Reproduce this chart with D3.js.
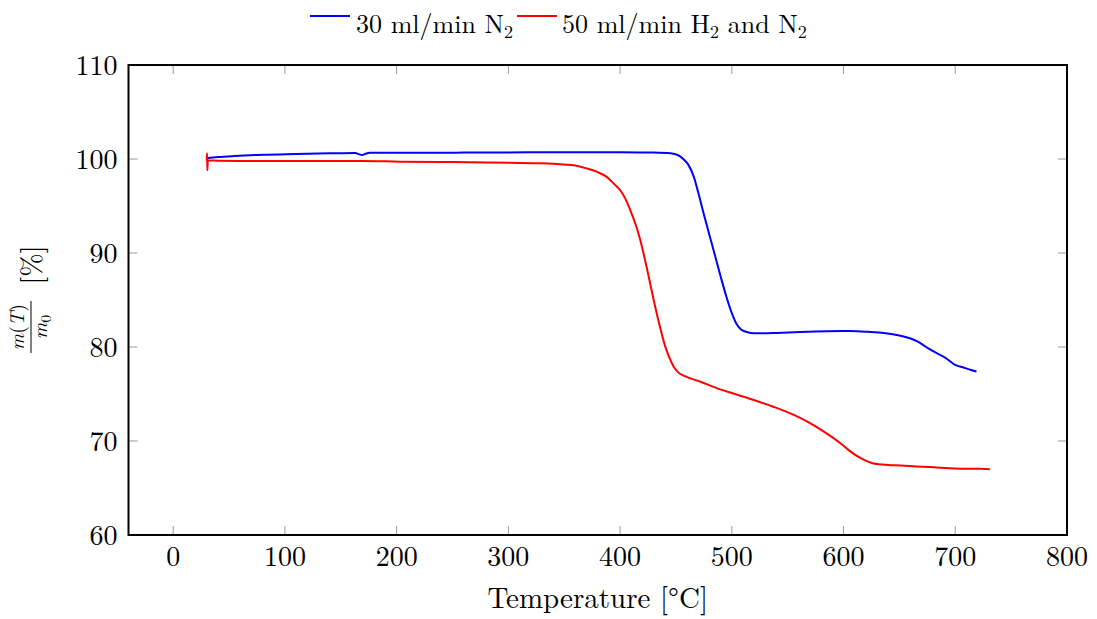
<!DOCTYPE html>
<html>
<head>
<meta charset="utf-8">
<script src="https://cdn.jsdelivr.net/npm/d3@7"></script>
<style>
  body { margin: 0; background: #fff; }
  svg text { font-family: "Latin Modern Roman", "CMU Serif", "Liberation Serif", "DejaVu Serif", serif; fill: #000; }
</style>
</head>
<body>
<svg id="chart"></svg>
<script>
// data: [temperature in °C, m(T)/m0 in %]
const seriesNames = ["30 ml/min N", "50 ml/min H"];
const seriesColors = ["#0000ff", "#ff0000"];

const n2Flow = [
  [30, 100.07], [40, 100.2], [55, 100.32], [80, 100.45], [110, 100.53], [140, 100.6],
  [163, 100.64], [166, 100.52], [169, 100.43], [172, 100.55], [176, 100.66], [200, 100.67],
  [230, 100.66], [260, 100.68], [300, 100.7], [350, 100.73], [400, 100.72], [430, 100.68],
  [445, 100.6], [452, 100.4], [457, 99.95], [461, 99.4], [466, 98.1], [470, 96.4],
  [475, 94.1], [480, 91.9], [485, 89.7], [490, 87.5], [495, 85.4],
  [500, 83.6], [504, 82.5], [508, 81.9], [512, 81.65], [517, 81.5], [522, 81.45],
  [540, 81.5], [561, 81.6], [585, 81.68], [606, 81.7], [622, 81.62], [636, 81.5],
  [651, 81.2], [660, 80.9], [666, 80.6], [674, 80.0], [681, 79.5], [689, 79.0],
  [693, 78.7], [699, 78.15], [708, 77.8], [714, 77.55], [719, 77.4]
];

const h2Flow = [
  [30, 99.8], [30.3, 100.6], [30.6, 98.8], [31, 99.85], [40, 99.82], [60, 99.8],
  [100, 99.8], [140, 99.8], [170, 99.8], [203, 99.72], [240, 99.68], [280, 99.63],
  [322, 99.55], [340, 99.5], [352, 99.4], [362, 99.25], [370, 99.0], [380, 98.6],
  [388, 98.1], [395, 97.3], [400, 96.7], [405, 95.7], [409, 94.6], [414, 93.0],
  [418, 91.4], [423, 88.9], [427, 86.7], [431, 84.5], [436, 82.0], [440, 80.2],
  [444, 78.9], [448, 77.9], [452, 77.3], [458, 76.9], [472, 76.3], [487, 75.6],
  [500, 75.1], [516, 74.5], [537, 73.65], [555, 72.8], [570, 71.9], [581, 71.1],
  [591, 70.3], [600, 69.5], [606, 68.9], [615, 68.2], [627, 67.6], [640, 67.45],
  [651, 67.4], [665, 67.3], [681, 67.2], [695, 67.1], [710, 67.05], [722, 67.05], [731, 67.0]
];

const xTicks = [0, 100, 200, 300, 400, 500, 600, 700, 800];
const yTicks = [60, 70, 80, 90, 100, 110];

const width = 1097, height = 619;
const margin = { top: 65, right: 30, bottom: 84, left: 128.5 };
const fontSize = 28;

const svg = d3.select("#chart").attr("width", width).attr("height", height);

const x = d3.scaleLinear().domain([-40, 800]).range([margin.left, width - margin.right]);
const y = d3.scaleLinear().domain([60, 110]).range([height - margin.bottom, margin.top]);

// tick marks inside the box, on all four sides
const tickLen = 9;
const ticks = svg.append("g").attr("stroke", "#999").attr("stroke-width", 1);
xTicks.forEach(t => {
  ticks.append("line").attr("x1", x(t)).attr("x2", x(t)).attr("y1", y(60)).attr("y2", y(60) - tickLen);
  ticks.append("line").attr("x1", x(t)).attr("x2", x(t)).attr("y1", y(110)).attr("y2", y(110) + tickLen);
});
yTicks.forEach(t => {
  ticks.append("line").attr("y1", y(t)).attr("y2", y(t)).attr("x1", x(-40)).attr("x2", x(-40) + tickLen);
  ticks.append("line").attr("y1", y(t)).attr("y2", y(t)).attr("x1", x(800)).attr("x2", x(800) - tickLen);
});

// curves
const line = d3.line().x(d => x(d[0])).y(d => y(d[1])).curve(d3.curveMonotoneX);
[n2Flow, h2Flow].forEach((s, i) => {
  svg.append("path")
    .datum(s)
    .attr("d", line)
    .attr("fill", "none")
    .attr("stroke", seriesColors[i])
    .attr("stroke-width", 2)
    .attr("stroke-linejoin", "round");
});

// frame
svg.append("rect")
  .attr("x", x(-40)).attr("y", y(110))
  .attr("width", x(800) - x(-40)).attr("height", y(60) - y(110))
  .attr("fill", "none").attr("stroke", "#000").attr("stroke-width", 2);

// tick labels
svg.append("g").selectAll("text")
  .data(xTicks).join("text")
  .attr("x", d => x(d)).attr("y", y(60) + 31)
  .attr("text-anchor", "middle").style("font-size", fontSize + "px")
  .text(d => d);

svg.append("g").selectAll("text")
  .data(yTicks).join("text")
  .attr("x", x(-40) - 11).attr("y", d => y(d) + 9.5)
  .attr("text-anchor", "end").style("font-size", fontSize + "px")
  .text(d => d);

// x axis title
svg.append("text")
  .attr("x", (x(-40) + x(800)) / 2).attr("y", 608)
  .attr("text-anchor", "middle").style("font-size", "29px")
  .text("Temperature [°C]");

// y axis title: m(T)/m0 [%], rotated
const yl = svg.append("g").attr("transform", "translate(31,300) rotate(-90)");
const fracC = -27, fs = 20;
const num = yl.append("text").attr("x", fracC).attr("y", -7).attr("text-anchor", "middle").style("font-size", fs + "px");
num.append("tspan").style("font-style", "italic").text("m");
num.append("tspan").text("(");
num.append("tspan").style("font-style", "italic").text("T");
num.append("tspan").text(")");
yl.append("line").attr("x1", fracC - 26).attr("x2", fracC + 26).attr("y1", 0).attr("y2", 0)
  .attr("stroke", "#000").attr("stroke-width", 1);
const den = yl.append("text").attr("x", fracC).attr("y", 16).attr("text-anchor", "middle").style("font-size", fs + "px");
den.append("tspan").style("font-style", "italic").text("m");
den.append("tspan").attr("dy", 4).style("font-size", "15px").text("0");
yl.append("text").attr("x", 35).attr("y", 10).attr("text-anchor", "middle")
  .style("font-size", fontSize + "px").text("[%]");

// legend
const legend = svg.append("g");
const items = [
  { color: seriesColors[0], lineX: 310, textX: 356, parts: [[seriesNames[0], 0], ["2", 1]] },
  { color: seriesColors[1], lineX: 517, textX: 562, parts: [[seriesNames[1], 0], ["2", 1], [" and N", 0], ["2", 1]] }
];
items.forEach(it => {
  legend.append("line").attr("x1", it.lineX).attr("x2", it.lineX + 40).attr("y1", 16).attr("y2", 16)
    .attr("stroke", it.color).attr("stroke-width", 2);
  const t = legend.append("text").attr("x", it.textX).attr("y", 33).style("font-size", "26px");
  let sub = false;
  it.parts.forEach(([s, isSub]) => {
    const ts = t.append("tspan").text(s);
    if (isSub && !sub) { ts.attr("dy", 5).style("font-size", "18px"); sub = true; }
    else if (!isSub && sub) { ts.attr("dy", -5); sub = false; }
  });
});
</script>
</body>
</html>
